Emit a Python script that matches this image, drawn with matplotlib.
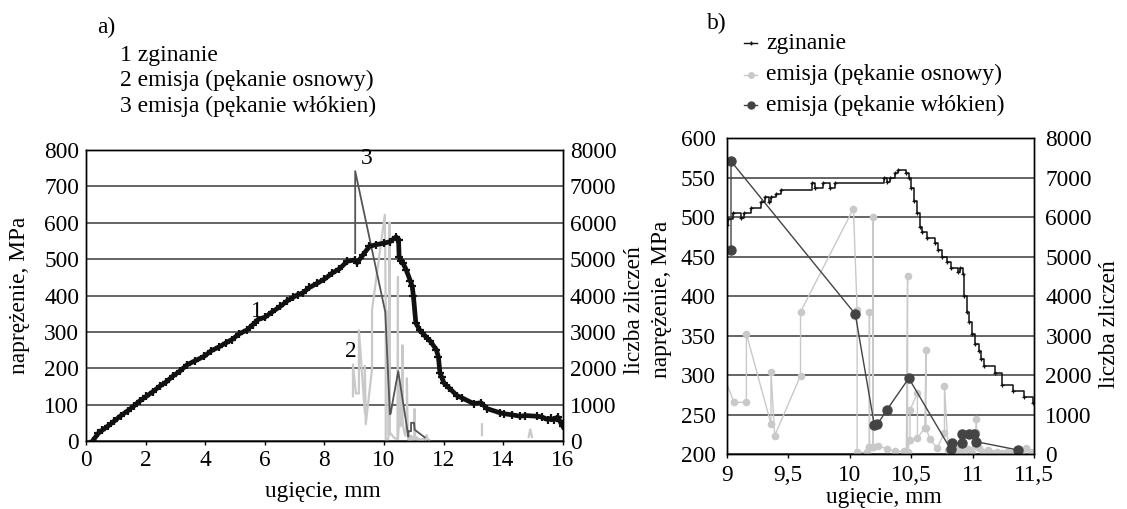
import numpy as np
import matplotlib
matplotlib.use("Agg")
import matplotlib.pyplot as plt
from matplotlib.lines import Line2D
from matplotlib.ticker import MultipleLocator, FuncFormatter

plt.rcParams['font.family'] = ['Liberation Serif', 'DejaVu Serif']

# ---------------- data ----------------
# bending stress (MPa) vs deflection (mm), panel a
bend_a_x = [0.22, 0.41, 0.55, 0.75, 0.95, 1.16, 1.4, 1.6, 1.8, 2.03, 2.25, 2.5, 2.7, 2.91, 3.15,
            3.4, 3.65, 3.97, 4.2, 4.45, 4.7, 4.9, 5.15, 5.4, 5.6, 5.77, 6.0, 6.25, 6.52, 6.75,
            6.95, 7.1, 7.27, 7.5, 7.77, 8.0, 8.27, 8.5, 8.77, 9.02, 9.1, 9.3, 9.51, 9.75, 10.01,
            10.2, 10.39, 10.45, 10.49, 10.51, 10.58, 10.64, 10.75, 10.89, 10.95, 10.99, 11.07, 11.2, 11.39, 11.55,
            11.76, 11.83, 11.88, 11.94, 12.01, 12.2, 12.45, 12.63, 13.01, 13.26, 13.46, 13.88, 14.02, 14.3, 14.58,
            14.75, 15.15, 15.3, 15.5, 15.6, 15.7, 15.83, 15.9, 16.0]
bend_a_y = [0, 21, 30, 42, 55, 69, 83, 96, 110, 123, 136, 152, 163, 178, 192,
            210, 220, 233, 248, 258, 270, 279, 295, 305, 320, 334, 340, 355, 370, 385,
            395, 402, 407, 422, 434, 445, 462, 473, 494, 498, 490, 512, 535, 540, 544,
            548, 560, 556, 553, 507, 495, 489, 470, 439, 425, 398, 325, 305, 288, 275,
            251, 230, 187, 175, 160, 145, 125, 118, 103, 105, 89, 78, 75, 72, 68,
            70, 68, 66, 59, 62, 58, 66, 55, 41]

# bending stress, panel b (step levels)
bend_b_x = [8.98, 9.0, 9.01, 9.05, 9.12, 9.14, 9.20, 9.28, 9.31, 9.34, 9.36, 9.40, 9.44, 9.69, 9.72,
            9.78, 9.84, 9.88, 10.28, 10.30, 10.33, 10.37, 10.39, 10.46, 10.48, 10.50, 10.52, 10.55, 10.57, 10.59,
            10.63, 10.69, 10.72, 10.75, 10.79, 10.82, 10.88, 10.90, 10.92, 10.93, 10.95, 10.97, 10.99, 11.02, 11.05,
            11.07, 11.09, 11.18, 11.24, 11.33, 11.42, 11.49, 11.55]
bend_b_y = [497, 490, 498, 505, 499, 505, 512, 519, 526, 519, 526, 530, 535, 543, 537,
            543, 537, 543, 550, 545, 550, 556, 560, 556, 550, 537, 521, 505, 488, 481,
            474, 467, 458, 450, 443, 436, 430, 436, 428, 400, 380, 367, 352, 340, 330,
            320, 312, 303, 288, 280, 272, 265, 265]

# acoustic emission counts - matrix cracking
matrix_x = [8.96, 8.96, 9.06, 9.16, 9.16, 9.36, 9.36, 9.39, 9.60, 9.60, 10.03, 10.06, 10.06, 10.14, 10.16,
            10.16, 10.16, 10.19, 10.19, 10.19, 10.23, 10.30, 10.37, 10.44, 10.46, 10.47, 10.47, 10.49, 10.49, 10.55,
            10.55, 10.61, 10.62, 10.62, 10.65, 10.71, 10.77, 10.77, 10.80, 10.82, 10.85, 10.88, 10.90, 10.93, 10.96,
            10.99, 11.02, 11.03, 11.03, 11.05, 11.08, 11.12, 11.16, 11.20, 11.24, 11.28, 11.32, 11.36, 11.40, 11.43,
            11.47, 11.52, np.nan, 13.29, 13.29, np.nan, 14.86, 14.91, 14.97]
matrix_y = [1230, 2100, 1308, 1308, 3046, 759, 2067, 464, 1983, 3603, 6219, 3654, 42, 42, 177,
            3586, 177, 177, 6000, 177, 211, 127, 68, 68, 66, 4510, 60, 354, 1114, 1552,
            405, 664, 2633, 664, 380, 150, 532, 1721, 100, 30, 100, 20, 150, 40, 120,
            30, 200, 878, 564, 150, 40, 100, 20, 50, 20, 60, 20, 90, 30, 160,
            60, 30, np.nan, 160, 460, np.nan, 110, 320, 110]

# acoustic emission counts - fibre cracking
fibre_x = [9.035, 9.035, 10.045, 10.20, 10.225, 10.30, 10.48, 10.82, 10.83, 10.91, 10.91, 10.97, 11.01, 11.03, 11.37]
fibre_y = [5165, 7420, 3545, 735, 750, 1110, 1920, 120, 270, 270, 500, 500, 500, 310, 100]

xticks_b = [9, 9.5, 10, 10.5, 11, 11.5]

# ---------------- layout ----------------
W, H = 1127, 509
fig = plt.figure(figsize=(W / 100, H / 100), dpi=100)


def rect(l, t, r, b):
    return [l / W, 1 - b / H, (r - l) / W, (b - t) / H]


BLACK = '#111111'
DARK = '#444444'
LIGHT = '#c9c9c9'
GRID = '#3a3a3a'
FS = 16.8

comma = FuncFormatter(lambda v, p: ('%g' % v).replace('.', ','))

# ---------- panel a ----------
axA = fig.add_axes(rect(86, 150, 562.7, 441))
axA2 = axA.twinx()
axA.set_zorder(axA2.get_zorder() + 1)
axA.patch.set_visible(False)

axA2.plot(matrix_x, matrix_y, color=LIGHT, lw=1.6, zorder=2)
axA2.plot(fibre_x, fibre_y, color='#555555', lw=1.3, zorder=3)
axA.plot(bend_a_x, bend_a_y, color=BLACK, lw=3.4, solid_joinstyle='round',
         marker='+', ms=5.5, mew=1.6, zorder=4)

axA.set_xlim(0, 16)
axA.set_ylim(0, 800)
axA2.set_ylim(0, 8000)
axA.xaxis.set_major_locator(MultipleLocator(2))
axA.yaxis.set_major_locator(MultipleLocator(100))
axA2.yaxis.set_major_locator(MultipleLocator(1000))
axA2.grid(axis='y', color=GRID, lw=1.1)
axA2.set_axisbelow(True)

axA.text(5.72, 357, '1', fontsize=FS, ha='center', va='center')
axA.text(8.9, 247, '2', fontsize=FS, ha='center', va='center')
axA.text(9.42, 777, '3', fontsize=FS, ha='center', va='center')

axA.set_xlabel('ugięcie, mm', fontsize=FS, va='center')
axA.xaxis.set_label_coords(0.497, -0.175)
axA.set_ylabel('naprężenie, MPa', fontsize=FS, va='center')
axA.yaxis.set_label_coords(-0.14, 0.5)
axA2.set_ylabel('liczba zliczeń', fontsize=FS, va='center', rotation=90)
axA2.yaxis.set_label_coords(1.151, 0.45)

# ---------- panel b ----------
axB = fig.add_axes(rect(726.7, 138.3, 1034.3, 454))
axB2 = axB.twinx()
axB.set_zorder(axB2.get_zorder() + 1)
axB.patch.set_visible(False)

axB2.plot(matrix_x, matrix_y, color=LIGHT, lw=1.0, marker='o', ms=4.5, mec=LIGHT, zorder=2)
axB2.plot(fibre_x, fibre_y, color=DARK, lw=1.0, marker='o', ms=6.5, mec=DARK, zorder=3)
axB.plot(bend_b_x, bend_b_y, color=BLACK, lw=1.1, drawstyle='steps-post',
         marker='+', ms=3.5, mew=0.9, zorder=4)

axB.set_xlim(9, 11.5)
axB.set_ylim(200, 600)
axB2.set_ylim(0, 8000)
axB.set_xticks(xticks_b)
axB.xaxis.set_major_formatter(comma)
axB.yaxis.set_major_locator(MultipleLocator(50))
axB2.yaxis.set_major_locator(MultipleLocator(1000))
axB2.grid(axis='y', color=GRID, lw=1.1)
axB2.set_axisbelow(True)

axB.set_xlabel('ugięcie, mm', fontsize=FS, va='center')
axB.xaxis.set_label_coords(0.51, -0.138)
axB.set_ylabel('naprężenie, MPa', fontsize=FS, va='center')
axB.yaxis.set_label_coords(-0.211, 0.49)
axB2.set_ylabel('liczba zliczeń', fontsize=FS, va='center', rotation=90)
axB2.yaxis.set_label_coords(1.246, 0.41)

for ax in (axA, axA2, axB, axB2):
    for s in ax.spines.values():
        s.set_color('black')
        s.set_linewidth(1.0)
        s.set_zorder(10)
    ax.tick_params(axis='y', length=0, labelsize=FS, pad=5)
    ax.tick_params(axis='x', length=3, width=1, direction='out', labelsize=FS, pad=3.3)
for ax in (axB, axB2):
    ax.tick_params(axis='y', pad=8)
axB.tick_params(axis='x', pad=5.2)

# ---------- legends / panel titles ----------
def fy(y):
    return 1 - y / H

fig.text(96.7 / W, fy(27), 'a)', fontsize=FS, ha='left', va='center')
for yy, lab in zip([55, 80.5, 106.5], ['1 zginanie', '2 emisja (pękanie osnowy)',
                                      '3 emisja (pękanie włókien)']):
    fig.text(120 / W, fy(yy), lab, fontsize=17, ha='left', va='center')

fig.text(706.7 / W, fy(23), 'b)', fontsize=FS, ha='left', va='center')
leg_items = [('zginanie', BLACK, '+', 3.5, 1.0),
             ('emisja (pękanie osnowy)', LIGHT, 'o', 4.0, 1.0),
             ('emisja (pękanie włókien)', DARK, 'o', 5.0, 1.0)]
for yy, (lab, col, mk, ms, lw) in zip([43, 74.5, 105], leg_items):
    fig.add_artist(Line2D([744 / W, 750.5 / W, 757 / W], [fy(yy)] * 3, transform=fig.transFigure,
                          color=col, lw=lw, marker=mk, ms=ms, mec=col, mfc=col, markevery=[1]))
    fig.text(766 / W, fy(yy), lab, fontsize=17, ha='left', va='center')

fig.savefig('out.png', dpi=100)
